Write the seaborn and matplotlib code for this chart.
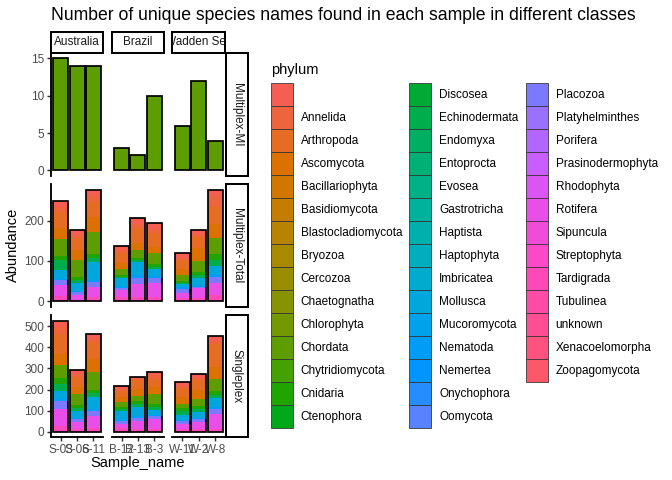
import numpy as np
import pandas as pd
import matplotlib

matplotlib.use("Agg")
import matplotlib.pyplot as plt
from matplotlib.patches import Rectangle
from matplotlib.ticker import MultipleLocator
import seaborn as sns

# 資料
samples = ["S-03", "S-06", "S-11", "B-12", "B-13", "B-3", "W-11", "W-2", "W-8"]
sample_locations = ["Australia"] * 3 + ["Brazil"] * 3 + ["Wadden Sea"] * 3
location_names = ["Australia", "Brazil", "Wadden Sea"]
methods = ["Multiplex-MI", "Multiplex-Total", "Singleplex"]

all_phyla = [
    "", "Annelida", "Arthropoda", "Ascomycota", "Bacillariophyta", "Basidiomycota",
    "Blastocladiomycota", "Bryozoa", "Cercozoa", "Chaetognatha", "Chlorophyta",
    "Chordata", "Chytridiomycota", "Cnidaria", "Ctenophora", "Discosea",
    "Echinodermata", "Endomyxa", "Entoprocta", "Evosea", "Gastrotricha", "Haptista",
    "Haptophyta", "Imbricatea", "Mollusca", "Mucoromycota", "Nematoda", "Nemertea",
    "Onychophora", "Oomycota", "Placozoa", "Platyhelminthes", "Porifera",
    "Prasinodermophyta", "Rhodophyta", "Rotifera", "Sipuncula", "Streptophyta",
    "Tardigrada", "Tubulinea", "unknown", "Xenacoelomorpha", "Zoopagomycota",
]

# 各樣本在主要門類的估計值（順序同 samples）
stack_phyla = ["", "Annelida", "Arthropoda", "Ascomycota", "Chordata", "Cnidaria",
               "Echinodermata", "Mollusca", "Nematoda", "Placozoa", "Rotifera",
               "Tardigrada"]

mi_chordata = [15, 14, 14, 3, 2, 10, 6, 12, 4]

total_counts = [
    [14, 13, 15, 12, 14, 15, 11, 10, 16],
    [12, 8, 13, 7, 10, 10, 7, 7, 23],
    [40, 28, 38, 24, 37, 34, 21, 27, 46],
    [27, 25, 37, 16, 18, 16, 16, 33, 35],
    [42, 42, 55, 14, 20, 28, 14, 28, 39],
    [12, 8, 10, 4, 5, 6, 4, 8, 15],
    [23, 7, 10, 4, 5, 5, 4, 6, 15],
    [22, 22, 45, 20, 33, 18, 8, 20, 20],
    [4, 2, 5, 4, 6, 4, 3, 3, 6],
    [12, 6, 12, 6, 16, 12, 12, 3, 15],
    [28, 12, 25, 16, 31, 36, 11, 24, 32],
    [12, 4, 10, 11, 11, 10, 8, 8, 14],
]

single_counts = [
    [30, 20, 22, 13, 10, 18, 18, 16, 24],
    [34, 14, 15, 10, 7, 15, 12, 12, 18],
    [94, 44, 79, 29, 42, 42, 40, 45, 108],
    [55, 34, 65, 23, 31, 31, 35, 45, 58],
    [59, 52, 83, 23, 23, 47, 20, 30, 55],
    [30, 16, 16, 10, 16, 14, 15, 15, 17],
    [32, 15, 15, 9, 15, 14, 15, 15, 17],
    [40, 30, 60, 40, 42, 25, 25, 29, 43],
    [7, 6, 10, 7, 8, 6, 6, 6, 8],
    [37, 14, 23, 12, 17, 11, 11, 12, 26],
    [83, 33, 58, 23, 37, 50, 28, 35, 70],
    [26, 14, 16, 16, 12, 12, 11, 12, 12],
]


def hcl_hex(h, c=100.0, l=65.0, display_gamma=1.3):
    """ggplot2 風格的 HCL 轉 sRGB（略加深以貼近參考圖的顯示）"""
    xn, yn, zn = 95.047, 100.0, 108.883
    un = 4 * xn / (xn + 15 * yn + 3 * zn)
    vn = 9 * yn / (xn + 15 * yn + 3 * zn)
    hr = np.deg2rad(h)
    u, v = c * np.cos(hr), c * np.sin(hr)
    y = yn * ((l + 16) / 116) ** 3
    up = u / (13 * l) + un
    vp = v / (13 * l) + vn
    x = 9 * y * up / (4 * vp)
    z = -x / 3 - 5 * y + 3 * y / vp
    x, y, z = x / 100, y / 100, z / 100
    rgb = np.array([
        3.240479 * x - 1.537150 * y - 0.498535 * z,
        -0.969256 * x + 1.875992 * y + 0.041556 * z,
        0.055648 * x - 0.204043 * y + 1.057311 * z,
    ])
    rgb = np.where(rgb <= 0.0031308, 12.92 * rgb, 1.055 * np.abs(rgb) ** (1 / 2.4) - 0.055)
    rgb = np.clip(rgb, 0, 1) ** display_gamma
    return "#%02X%02X%02X" % tuple(int(round(t * 255)) for t in rgb)


n_phyla = len(all_phyla)
hues = np.linspace(15, 375, n_phyla + 1)[:n_phyla]
palette = {p: hcl_hex(h) for p, h in zip(all_phyla, hues)}

# 長表
records = []
for i, s in enumerate(samples):
    records.append(("Multiplex-MI", sample_locations[i], s, "Chordata", mi_chordata[i]))
    for j, p in enumerate(stack_phyla):
        records.append(("Multiplex-Total", sample_locations[i], s, p, total_counts[j][i]))
        records.append(("Singleplex", sample_locations[i], s, p, single_counts[j][i]))
df = pd.DataFrame(records, columns=["method", "location", "Sample_name", "phylum", "Abundance"])

sns.set_style("ticks")
plt.rcParams["font.family"] = ["Liberation Sans", "DejaVu Sans"]

W, H = 672, 480
fig = plt.figure(figsize=(7, 5), dpi=96)


def rect(x0, y0, x1, y1):
    return [x0 / W, 1 - y1 / H, (x1 - x0) / W, (y1 - y0) / H]


col_x = [(51, 103.3), (111.7, 164), (172.3, 225)]
row_y = [(52.7, 176), (184.3, 306.7), (315, 437.3)]
tick_step = [5, 100, 100]

for r, method in enumerate(methods):
    mdf = df[df["method"] == method]
    ymax = mdf.groupby("Sample_name")["Abundance"].sum().max()
    for c, loc in enumerate(location_names):
        ax = fig.add_axes(rect(col_x[c][0], row_y[r][0], col_x[c][1], row_y[r][1]))
        sub = mdf[mdf["location"] == loc]
        order = [s for s, l in zip(samples, sample_locations) if l == loc]
        wide = sub.pivot_table(index="Sample_name", columns="phylum",
                               values="Abundance", aggfunc="sum").reindex(order)
        present = [p for p in all_phyla if p in wide.columns]
        # 由上而下疊加：第一個門類在最上方
        cum = wide[present[::-1]].cumsum(axis=1)
        for p in present:
            sns.barplot(x=order, y=cum[p].values, order=order, color=palette[p],
                        saturation=1, width=0.9, linewidth=0, errorbar=None, ax=ax)
        sns.barplot(x=order, y=wide[present].sum(axis=1).values, order=order,
                    color="black", fill=False, width=0.9, linewidth=1.3,
                    errorbar=None, ax=ax)
        ax.set_xlim(-0.6, 2.6)
        ax.set_ylim(-0.05 * ymax, 1.05 * ymax)
        ax.set_xlabel("")
        ax.set_ylabel("")
        ax.patch.set_alpha(0)
        for sp in ["top", "right"]:
            ax.spines[sp].set_visible(False)
        ax.spines["left"].set_visible(c == 0)
        ax.spines["bottom"].set_visible(r == 2)
        for sp in ["left", "bottom"]:
            ax.spines[sp].set_linewidth(1.4)
            ax.spines[sp].set_color("black")
        ax.yaxis.set_major_locator(MultipleLocator(tick_step[r]))
        ax.tick_params(axis="both", length=2.75, width=1.1, color="#333333",
                       labelsize=8.8, labelcolor="#4D4D4D", pad=2.2)
        if c != 0:
            ax.tick_params(axis="y", left=False, labelleft=False)
        if r != 2:
            ax.tick_params(axis="x", bottom=False, labelbottom=False)

# 分面標籤
for c, loc in enumerate(location_names):
    sax = fig.add_axes(rect(col_x[c][0], 31.7, col_x[c][1], 52.7))
    sax.set_xticks([])
    sax.set_yticks([])
    for sp in sax.spines.values():
        sp.set_linewidth(1.5)
        sp.set_color("black")
    sax.text(0.5, 0.5, loc, ha="center", va="center", fontsize=8.8,
             color="#1A1A1A", transform=sax.transAxes, clip_on=True)

for r, method in enumerate(methods):
    sax = fig.add_axes(rect(226, row_y[r][0], 247.7, row_y[r][1]))
    sax.set_xticks([])
    sax.set_yticks([])
    for sp in sax.spines.values():
        sp.set_linewidth(1.5)
        sp.set_color("black")
    sax.text(0.5, 0.5, method, ha="center", va="center", rotation=-90,
             fontsize=8.8, color="#1A1A1A", transform=sax.transAxes, clip_on=True)

# 標題與軸標題
fig.text(51 / W, 1 - 15 / H, "Number of unique species names found in each sample in different classes",
         ha="left", va="center", fontsize=13.2, color="black")
fig.text(12.8 / W, 1 - 245 / H, "Abundance", rotation=90, ha="center", va="center",
         fontsize=11, color="black")
fig.text(138 / W, 1 - 463 / H, "Sample_name", ha="center", va="center",
         fontsize=11, color="black")

# 圖例
lax = fig.add_axes([0, 0, 1, 1])
lax.set_xlim(0, W)
lax.set_ylim(H, 0)
lax.axis("off")
lax.patch.set_alpha(0)
lax.text(270.7, 70, "phylum", ha="left", va="center", fontsize=11, color="black")
leg_x = [270.7, 409.3, 525.7]
key_w, key_h, top0 = 22, 23, 83.3
for k, p in enumerate(all_phyla):
    col, row = divmod(k, 15)
    x0 = leg_x[col]
    y0 = top0 + row * key_h
    lax.add_patch(Rectangle((x0, y0), key_w, key_h, facecolor=palette[p],
                            edgecolor="#333333", linewidth=0.6))
    lax.text(x0 + key_w + 8, y0 + key_h / 2, p, ha="left", va="center",
             fontsize=8.8, color="black")

fig.savefig("out.png", dpi=96)
